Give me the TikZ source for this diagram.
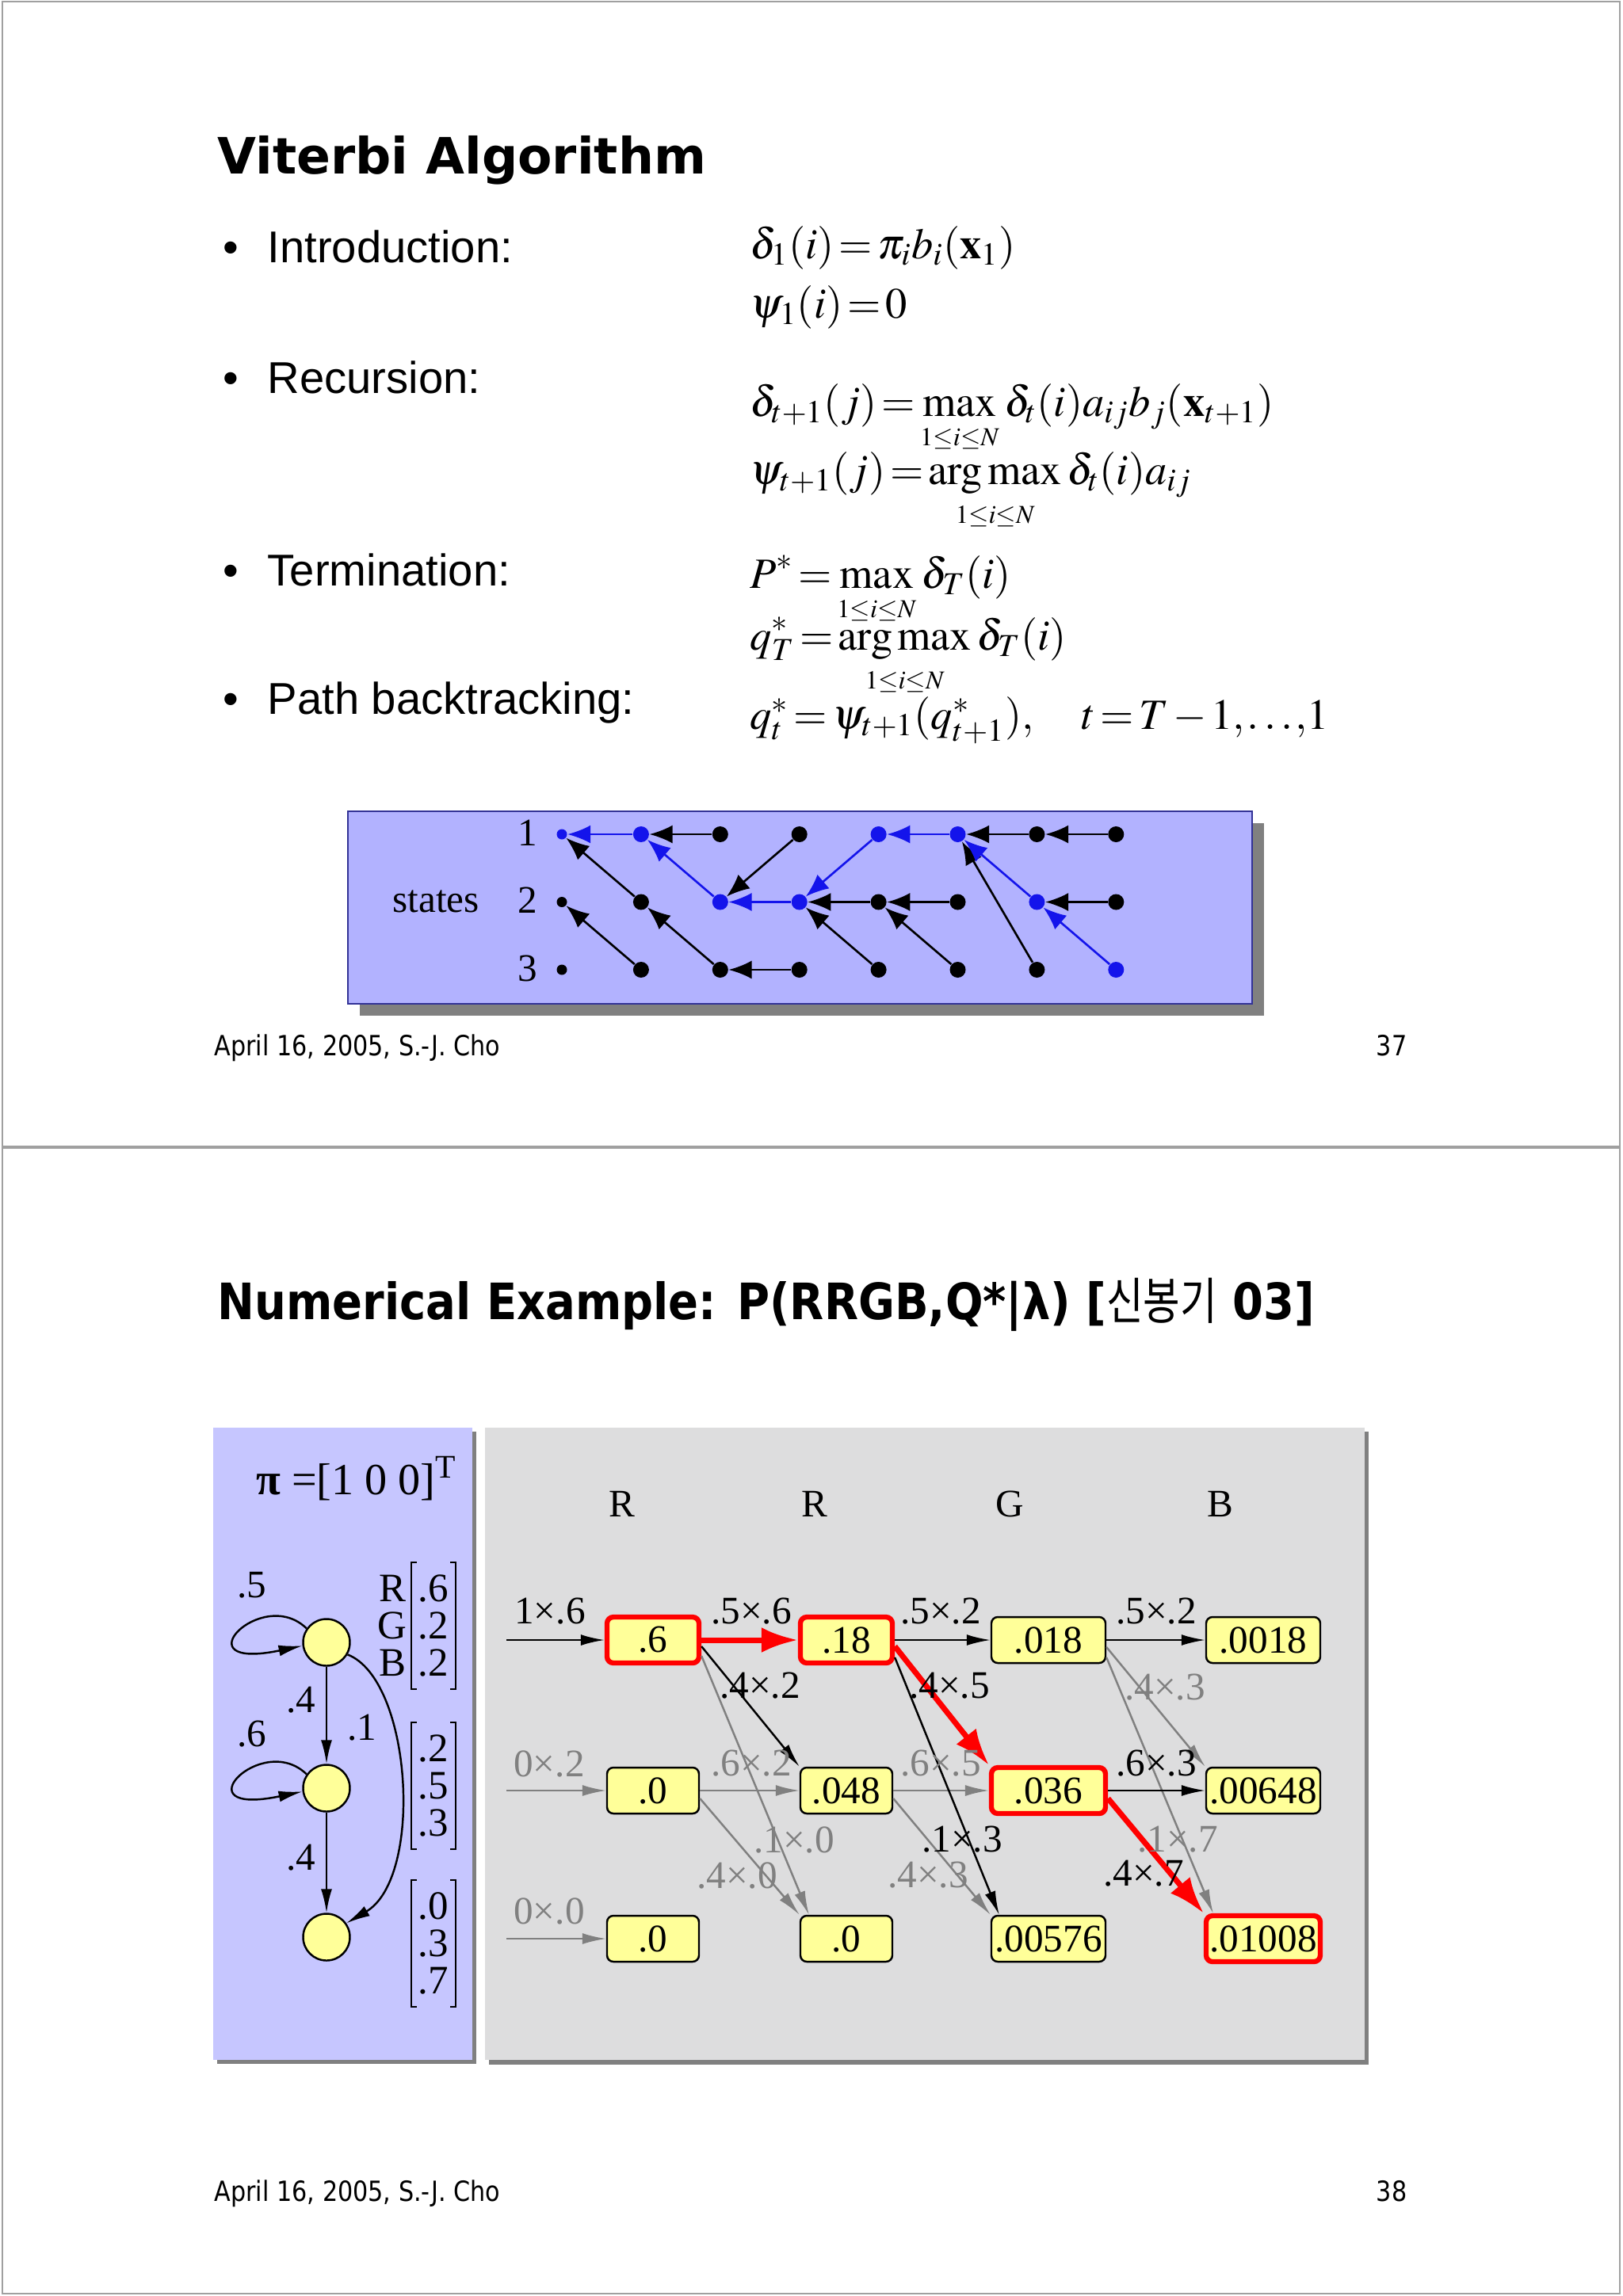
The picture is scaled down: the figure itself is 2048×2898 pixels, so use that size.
\documentclass[tikz,border=0pt]{standalone}
\usepackage{amsmath}
\usepackage{mathptmx}
\usepackage{fontspec}
\setmainfont{Liberation Serif}
\newfontfamily\arialfont{Liberation Sans}
\newfontfamily\verdanafont{DejaVu Sans}
\newfontfamily\verdananarrow[FakeStretch=0.885]{DejaVu Sans}
\newfontfamily\tahomafont[FakeStretch=0.86]{DejaVu Sans}
\newfontfamily\hangulfont[FakeStretch=0.8]{Noto Sans CJK KR}
\usetikzlibrary{arrows.meta,positioning}
\definecolor{frameGray}{RGB}{160,160,160}
\definecolor{shadowGray}{RGB}{128,128,128}
\definecolor{arrowGray}{RGB}{128,128,128}
\definecolor{trellisLav}{RGB}{178,178,255}
\definecolor{trellisNavy}{RGB}{50,50,150}
\definecolor{hmmLav}{RGB}{198,198,255}
\definecolor{panelGray}{RGB}{221,221,222}
\definecolor{boxYel}{RGB}{255,255,153}
\definecolor{pathBlue}{RGB}{20,20,235}
% range under max / arg max
\newcommand{\rng}{\rule{0pt}{8pt}\scriptscriptstyle 1\le i\le N}

\begin{document}
\begin{tikzpicture}[x=0.1mm, y=-0.1mm,
  frame/.style={draw=frameGray, line width=0.6pt},
  ttl/.style={anchor=base west, inner sep=0pt, font=\verdanafont\bfseries\fontsize{18}{18}\selectfont},
  bul/.style={anchor=base west, inner sep=0pt, font=\arialfont\fontsize{16}{16}\selectfont},
  eq/.style={anchor=base west, inner sep=0pt, font=\fontsize{15.5}{15.5}\selectfont},
  foot/.style={inner sep=0pt, font=\tahomafont\fontsize{10}{10}\selectfont},
  dot/.style={circle, inner sep=0pt, minimum size=2mm},
  bp/.style={line width=0.75pt, -{Latex[length=2.9mm,width=2.3mm]}},
  tnum/.style={inner sep=0pt, font=\fontsize{14}{14}\selectfont},
  st/.style={circle, draw, fill=boxYel, line width=0.7pt, minimum size=5.9mm, inner sep=0pt},
  hmmarr/.style={line width=0.7pt, -{Latex[length=3mm,width=1.4mm]}},
  emis/.style={minimum width=5.5mm, minimum height=15.9mm, inner sep=0pt, align=center, font=\fontsize{14.5}{13.4}\selectfont},
  brk/.style={line width=0.6pt},
  cell/.style={draw, rounded corners=0.8mm, fill=boxYel, line width=0.7pt, minimum width=11.6mm, minimum height=5.8mm, inner sep=0pt, font=\fontsize{14}{14}\selectfont},
  wide/.style={minimum width=14.4mm},
  best/.style={draw=red, line width=1.8pt},
  tr/.style={line width=0.7pt, -{Latex[length=3mm,width=1.4mm]}},
  trg/.style={tr, draw=arrowGray},
  trbest/.style={draw=red, line width=2pt, -{Latex[length=4.6mm,width=3.2mm]}},
  lab/.style={inner sep=0pt, font=\fontsize{14}{14}\selectfont},
  labg/.style={lab, text=arrowGray}
]
\thickmuskip=2mu plus 1mu
\medmuskip=2mu plus 1mu
\useasboundingbox[fill=white] (0,0) rectangle (2048,2898);
\draw[frame] (3,2) rectangle (2044,1447);
\draw[frame] (3,1449) rectangle (2044,2895);

%% slide 37
\node[ttl] (title1) at (274,219) {Viterbi Algorithm};

\node[bul] (intro) at (281,331) {\makebox[5.6mm][l]{•}Introduction:};
\node[bul] (recur) at (281,496) {\makebox[5.6mm][l]{•}Recursion:};
\node[bul] (term) at (281,739) {\makebox[5.6mm][l]{•}Termination:};
\node[bul] (back) at (281,901) {\makebox[5.6mm][l]{•}Path backtracking:};

\node[eq] (eq1) at (946,326) {$\delta_1(i)=\pi_i b_i(\mathbf{x}_1)$};
\node[eq] (eq2) at (946,401) {$\psi_1(i)=0$};
\node[eq] (eq3) at (946,525) {$\displaystyle \delta_{t+1}(j)=\max_{\rng}\delta_t(i)a_{ij}b_j(\mathbf{x}_{t+1})$};
\node[eq] (eq4) at (946,611) {$\displaystyle \psi_{t+1}(j)=\operatorname*{arg\,max}_{\rng}\delta_t(i)a_{ij}$};
\node[eq] (eq5) at (946,742) {$\displaystyle P^*=\max_{\rng}\delta_T(i)$};
\node[eq] (eq6) at (946,820) {$\displaystyle q_T^*=\operatorname*{arg\,max}_{\rng}\delta_T(i)$};
\node[eq] (eq7) at (946,920) {$q_t^*=\psi_{t+1}(q_{t+1}^*),\quad t=T-1{,}\mkern-1mu\ldots\mkern-1mu{,}1$};

% trellis of back pointers
\fill[shadowGray] (454,1039) rectangle (1595,1282);
\draw[draw=trellisNavy, fill=trellisLav, line width=0.6pt] (439,1024) rectangle (1580,1267);
\node[tnum] (states) at (550,1138) {states};
\foreach \r in {1,2,3}
  \node[tnum] (lbl\r) at (666,{1051+85.5*(\r-1)}) {\r};

\foreach \c/\b in {1/1,2/1,3/2,4/2,5/1,6/1,7/2,8/3}
  \foreach \r in {1,2,3} {
    \ifnum\r=\b\relax\def\dc{pathBlue}\else\def\dc{black}\fi
    \ifnum\c=1\relax\def\ds{1.3mm}\else\def\ds{2mm}\fi
    \node[dot, fill=\dc, minimum size=\ds] (t\c\r) at ({709+99.9*(\c-1)},{1053+85.5*(\r-1)}) {};
  }

\foreach \f/\t/\col in {22/11/black, 23/12/black, 31/21/black, 33/22/black, 41/32/black,
    43/33/black, 52/42/black, 53/42/black, 62/52/black, 63/52/black, 71/61/black,
    73/61/black, 81/71/black, 82/72/black,
    21/11/pathBlue, 32/21/pathBlue, 42/32/pathBlue, 51/42/pathBlue, 61/51/pathBlue,
    72/61/pathBlue, 83/72/pathBlue}
  \draw[bp, draw=\col] (t\f) -- (t\t);

\node[foot, anchor=base west] (foot1) at (270,1332) {April 16, 2005, S.-J. Cho};
\node[foot, anchor=base east] (page1) at (1776,1332) {37};

%% slide 38
\node[ttl, font=\verdananarrow\bfseries\fontsize{18}{18}\selectfont] (title2) at (274,1665) {Numerical Example: P(RRGB,Q*|λ) [{\hangulfont\mdseries 신봉기} 03]};

% left panel: the model
\fill[shadowGray] (274,1807) rectangle (601,2605);
\fill[hmmLav] (269,1802) rectangle (596,2600);
\node[lab, font=\fontsize{16}{16}\selectfont, anchor=base] (pi) at (450,1886) {{\bfseries π} =[1 0 0]\textsuperscript{T}};

\node[st] (s1) at (412,2073) {};
\node[st] (s2) at (412,2257) {};
\node[st] (s3) at (412,2445) {};

\draw[hmmarr] (s1.145) .. controls (330,2000) and (225,2110) .. (s1.188);
\draw[hmmarr] (s2.145) .. controls (330,2184) and (225,2294) .. (s2.188);
\draw[hmmarr] (s1) -- (s2);
\draw[hmmarr] (s2) -- (s3);
\draw[hmmarr] (s1.-30) .. controls (520,2120) and (535,2370) .. (s3.35);

\node[tnum] at (318,2001) {.5};
\node[tnum] at (318,2189) {.6};
\node[tnum] at (380,2146) {.4};
\node[tnum] at (457,2181) {.1};
\node[tnum] at (380,2345) {.4};

\node[emis] (rgb) at (495,2052) {R\\G\\B};
\node[emis] (em1) at (547,2052) {.6\\.2\\.2};
\node[emis] (em2) at (547,2254) {.2\\.5\\.3};
\node[emis] (em3) at (547,2453) {.0\\.3\\.7};
\foreach \m in {em1,em2,em3} {
  \draw[brk] ([xshift=0.7mm]\m.north west) -- (\m.north west) -- (\m.south west) -- ([xshift=0.7mm]\m.south west);
  \draw[brk] ([xshift=-0.7mm]\m.north east) -- (\m.north east) -- (\m.south east) -- ([xshift=-0.7mm]\m.south east);
}

% right panel: the trellis
\fill[shadowGray] (617,1807) rectangle (1727,2606);
\fill[panelGray] (612,1802) rectangle (1722,2600);

\node[lab] (hR1) at (785,1898) {R};
\node[lab] (hR2) at (1028,1898) {R};
\node[lab] (hG) at (1274,1898) {G};
\node[lab] (hB) at (1540,1898) {B};

\node[cell, best] (v11) at (824,2070) {.6};
\node[cell] (v12) at (824,2260) {.0};
\node[cell] (v13) at (824,2447) {.0};
\node[cell, best] (v21) at (1068,2070) {.18};
\node[cell] (v22) at (1068,2260) {.048};
\node[cell] (v23) at (1068,2447) {.0};
\node[cell, wide] (v31) at (1323,2070) {.018};
\node[cell, wide, best] (v32) at (1323,2260) {.036};
\node[cell, wide] (v33) at (1323,2447) {.00576};
\node[cell, wide] (v41) at (1594,2070) {.0018};
\node[cell, wide] (v42) at (1594,2260) {.00648};
\node[cell, wide, best] (v43) at (1594,2447) {.01008};

\coordinate (in1) at (639,2070);
\coordinate (in2) at (639,2260);
\coordinate (in3) at (639,2447);

% gray transitions
\draw[trg] (in2) -- (v12);
\draw[trg] (in3) -- (v13);
\draw[trg] ([yshift=-2mm]v11.east) -- ([xshift=1.2mm]v23.north west);
\draw[trg] (v12.east) -- (v22.west);
\draw[trg] ([yshift=-1mm]v12.east) -- (v23.north west);
\draw[trg] (v22.east) -- (v32.west);
\draw[trg] ([yshift=-1mm]v22.east) -- (v33.north west);
\draw[trg] ([yshift=-0.9mm]v31.east) -- (v42.north west);
\draw[trg] ([yshift=-2.2mm]v31.east) -- ([xshift=1.2mm]v43.north west);
% black transitions
\draw[tr] (in1) -- (v11);
\draw[tr] ([yshift=-0.8mm]v11.east) -- (v22.north west);
\draw[tr] (v21.east) -- (v31.west);
\draw[tr] ([yshift=-2.2mm]v21.east) -- ([xshift=1.1mm]v33.north west);
\draw[tr] (v31.east) -- (v41.west);
\draw[tr] (v32.east) -- (v42.west);
% best path
\draw[trbest] (v11.east) -- (v21.west);
\draw[trbest] ([yshift=-0.8mm]v21.east) -- (v32.north west);
\draw[trbest] ([yshift=-1mm]v32.east) -- (v43.north west);

\node[lab] at (694,2034) {1×.6};
\node[labg] at (693,2226) {0×.2};
\node[labg] at (693,2412) {0×.0};
\node[lab] at (948,2034) {.5×.6};
\node[lab] at (959,2128) {.4×.2};
\node[labg] at (948,2226) {.6×.2};
\node[labg] at (1002,2322) {.1×.0};
\node[labg] at (930,2367) {.4×.0};
\node[lab] at (1187,2034) {.5×.2};
\node[lab] at (1198,2128) {.4×.5};
\node[labg] at (1187,2226) {.6×.5};
\node[lab] at (1214,2322) {.1×.3};
\node[labg] at (1171,2367) {.4×.3};
\node[lab] at (1459,2034) {.5×.2};
\node[labg] at (1470,2130) {.4×.3};
\node[lab] at (1459,2226) {.6×.3};
\node[labg] at (1486,2322) {.1×.7};
\node[lab] at (1443,2365) {.4×.7};

\node[foot, anchor=base west] (foot2) at (270,2778) {April 16, 2005, S.-J. Cho};
\node[foot, anchor=base east] (page2) at (1776,2778) {38};
\end{tikzpicture}
\end{document}
